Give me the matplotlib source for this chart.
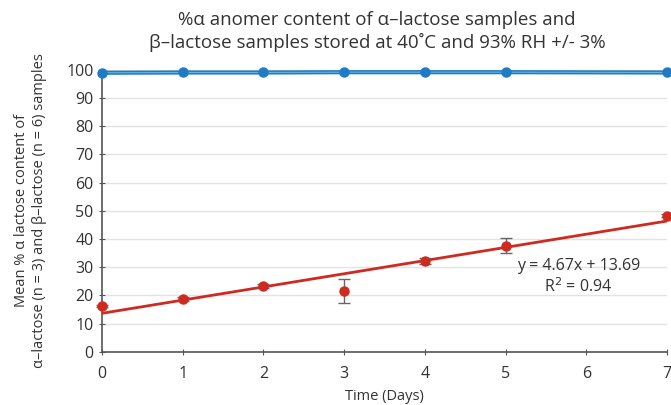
import matplotlib.pyplot as plt

plt.rcParams['font.family'] = ['Open Sans', 'DejaVu Sans']

days_beta = [0, 1, 2, 3, 4, 5, 7]
beta_vals = [98.9, 99.0, 99.0, 99.1, 99.1, 99.1, 99.0]

days_alpha = [0, 1, 2, 3, 4, 5, 7]
alpha_vals = [16.3, 18.8, 23.3, 21.7, 32.2, 37.6, 48.3]
alpha_err = [0.5, 0.6, 0.6, 4.3, 1.0, 2.6, 0.5]

slope, intercept = 4.67, 13.69
fit_x = [0, 7]

blue = '#1f7bc4'
red = '#cf2a20'
text_col = '#333333'

fig = plt.figure(figsize=(6.71, 4.05), dpi=100)
ax = fig.add_axes([0.152, 0.131, 0.842, 0.697])

ax.plot(days_beta, beta_vals, color=blue, lw=3, clip_on=False, zorder=3)
ax.plot(days_beta, beta_vals, color='#6aafe6', lw=0.8, clip_on=False,
        zorder=3)
ax.plot(days_beta, beta_vals, 'o', color=blue, ms=6.5, clip_on=False,
        zorder=3)
ax.errorbar(days_alpha, alpha_vals, yerr=alpha_err, fmt='o', color=red,
            ecolor='#666666', elinewidth=1, capsize=4, ms=6.5, clip_on=False,
            zorder=4)
ax.plot(fit_x, [slope * x + intercept for x in fit_x], color=red, lw=2,
        zorder=3)

ax.text(5.9, 30.5, 'y = 4.67x + 13.69', ha='center', va='center',
        fontsize=11.5, color=text_col)
ax.text(5.9, 23.0, 'R$^2$ = 0.94', ha='center', va='center',
        fontsize=11.5, color=text_col)

ax.set_xlim(0, 7)
ax.set_ylim(0, 100)
ax.set_xticks(range(0, 8))
ax.set_yticks(range(0, 101, 10))
ax.yaxis.grid(True, color='#e3e3e3', lw=1)
ax.set_axisbelow(True)
for s in ['top', 'right']:
    ax.spines[s].set_visible(False)
for s in ['left', 'bottom']:
    ax.spines[s].set_color('#555555')
    ax.spines[s].set_linewidth(1.2)
ax.tick_params(colors='#555555', labelcolor=text_col, labelsize=11.5,
               length=4, direction='inout')
ax.tick_params(axis='x', pad=8)
ax.tick_params(axis='y', pad=4)

ax.set_xlabel('Time (Days)', fontsize=10.5, color=text_col, labelpad=5)
ax.set_ylabel('Mean % \u03b1 lactose content of\n'
              '\u03b1\u2013lactose (n = 3) and \u03b2\u2013lactose (n = 6) samples',
              fontsize=10.5, color=text_col, labelpad=14, linespacing=1.25)
fig.text(0.562, 0.923, '%\u03b1 anomer content of \u03b1\u2013lactose samples and\n'
         '\u03b2\u2013lactose samples stored at 40\u02daC and 93% RH +/- 3%',
         ha='center', va='center', fontsize=13.5, color=text_col,
         linespacing=1.25)

fig.savefig('out.png', dpi=100)
